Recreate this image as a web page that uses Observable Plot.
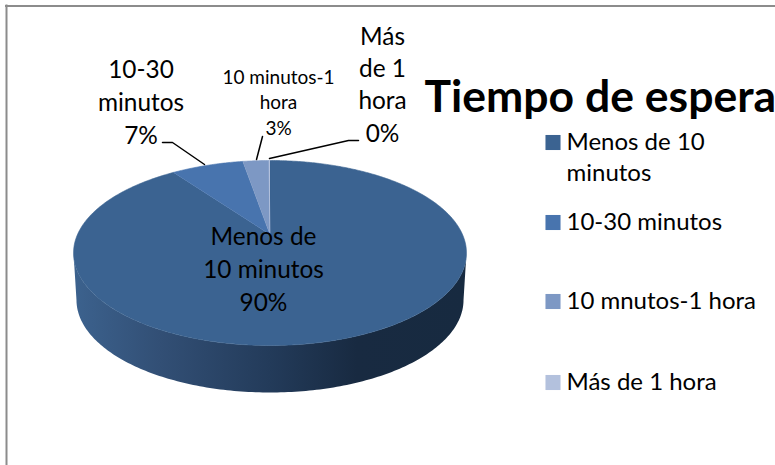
<!DOCTYPE html>
<html>
<head>
<meta charset="utf-8">
<script src="https://cdn.jsdelivr.net/npm/d3@7"></script>
<script src="https://cdn.jsdelivr.net/npm/@observablehq/plot@0.6"></script>
<style>
html,body{margin:0;padding:0;background:#fff;}
svg{display:block;overflow:visible;}
</style>
</head>
<body>
<div id="chart"></div>
<script>
// Data
const titleText = "Tiempo de espera";
const categories = ["Menos de 10 minutos", "10-30 minutos", "10 mnutos-1 hora", "Más de 1 hora"];
const shares = [90.1, 7.2, 2.6, 0.1];
const sliceLabels = ["Menos de\n10 minutos\n90%", "10-30\nminutos\n7%", "10 minutos-1\nhora\n3%", "Más\nde 1\nhora\n0%"];
const legendLabels = ["Menos de 10\nminutos", "10-30 minutos", "10 mnutos-1 hora", "Más de 1 hora"];

// Style and layout
const colors = ["#3b6391", "#4874ae", "#7d98c4", "#b3c1dd"];
const pie = {cx: 269.5, apexY: 234, a: 192.5, b: 88.8, k: 0.2, depth: 47, bottomScale: 0.985};
const labelX = [263, 140.5, 278, 382];
const labelY = [310.5, 143, 134, 141];
const labelSize = [24.4, 24.4, 19, 24.4];
const labelLead = [33, 33, 25.5, 32.3];
const legendX = 552.5, legendTextX = 566;
const legendY = [142, 222, 301, 382];
const leaders = [
  [[162,142],[172,142],[204,164]],
  [[262,136],[256,159]],
  [[358,140],[348,140],[269,158]]
];

// Perspective projection of the tilted pie
function project(theta, lower = false) {
  const X = Math.sin(theta), Y = Math.cos(theta), w = 1 + pie.k * Y;
  const s = lower ? pie.bottomScale : 1;
  return [pie.cx + s * pie.a * X / w, pie.apexY - pie.b * Y / w + (lower ? pie.depth : 0)];
}
const tau = Math.PI * 2;
const total = d3.sum(shares);
const cum = d3.cumsum(shares);
const slices = shares.map((v, i) => {
  const a0 = ((cum[i] - v) / total) * tau, a1 = (cum[i] / total) * tau;
  const n = Math.max(2, Math.ceil((a1 - a0) * 90));
  const pts = [[pie.cx, pie.apexY]];
  for (let j = 0; j <= n; j++) pts.push(project(a0 + (a1 - a0) * j / n));
  return {pts, fill: colors[i]};
});
const rimStart = Math.acos(-pie.k), rimEnd = tau - rimStart;
const wall = [];
for (let j = 0; j <= 180; j++) wall.push(project(rimStart + (rimEnd - rimStart) * j / 180, true));
for (let j = 180; j >= 0; j--) wall.push(project(rimStart + (rimEnd - rimStart) * j / 180));

const defs = () => {
  const d = d3.create("svg:defs");
  const g = d.append("linearGradient").attr("id", "wallGrad").attr("x1", 0).attr("x2", 1).attr("y1", 0).attr("y2", 0);
  [[0, "#3c628e"], [0.22, "#324f75"], [0.5, "#233b5a"], [0.72, "#182a41"], [1, "#172a40"]].forEach(([o, c]) =>
    g.append("stop").attr("offset", o).attr("stop-color", c));
  return d.node();
};

const font = "Lato, 'Open Sans', sans-serif";
const labelRows = sliceLabels.map((t, i) => ({t, x: labelX[i], y: labelY[i], s: labelSize[i], l: labelLead[i]}));
const legendRows = legendLabels.map((t, i) => ({t, c: colors[i], y: legendY[i]}));

const chart = Plot.plot({
  width: 775, height: 465, margin: 0,
  style: {background: "#fff", fontFamily: font},
  x: {domain: [0, 775], range: [0, 775], axis: null},
  y: {domain: [0, 465], range: [0, 465], axis: null},
  marks: [
    defs,
    Plot.ruleX([6], {y1: 4.5, y2: 465, stroke: "#8c8c8c", strokeWidth: 2}),
    Plot.ruleY([5.5], {x1: 5, x2: 775, stroke: "#8c8c8c", strokeWidth: 2}),
    Plot.line(wall, {x: d => d[0], y: d => d[1], fill: "url(#wallGrad)", stroke: "none"}),
    ...slices.map(s => Plot.line(s.pts, {x: d => d[0], y: d => d[1], fill: s.fill, stroke: s.fill, strokeWidth: 0.6})),
    ...leaders.map(l => Plot.line(l, {x: d => d[0], y: d => d[1], stroke: "#000", strokeWidth: 1.5})),
    ...labelRows.map(r => Plot.text([r], {
      x: "x", y: d => d.y, text: "t", textAnchor: "middle", lineAnchor: "bottom",
      fontSize: r.s, lineHeight: r.l / r.s, fill: "#000"
    })),
    Plot.text([titleText], {x: [424], y: [111], text: d => d, textAnchor: "start", lineAnchor: "bottom",
      fontSize: 44.5, fontWeight: 700, fill: "#000"}),
    Plot.dot(legendRows, {x: () => legendX, y: "y", symbol: "square", r: 8.5, fill: "c", stroke: "none"}),
    Plot.text(legendRows, {x: () => legendTextX, y: d => d.y, text: "t", textAnchor: "start", lineAnchor: "top",
      fontSize: 24, lineHeight: 1.3, fill: "#000", dy: -15})
  ]
});
document.getElementById("chart").appendChild(chart);
</script>
</body>
</html>
